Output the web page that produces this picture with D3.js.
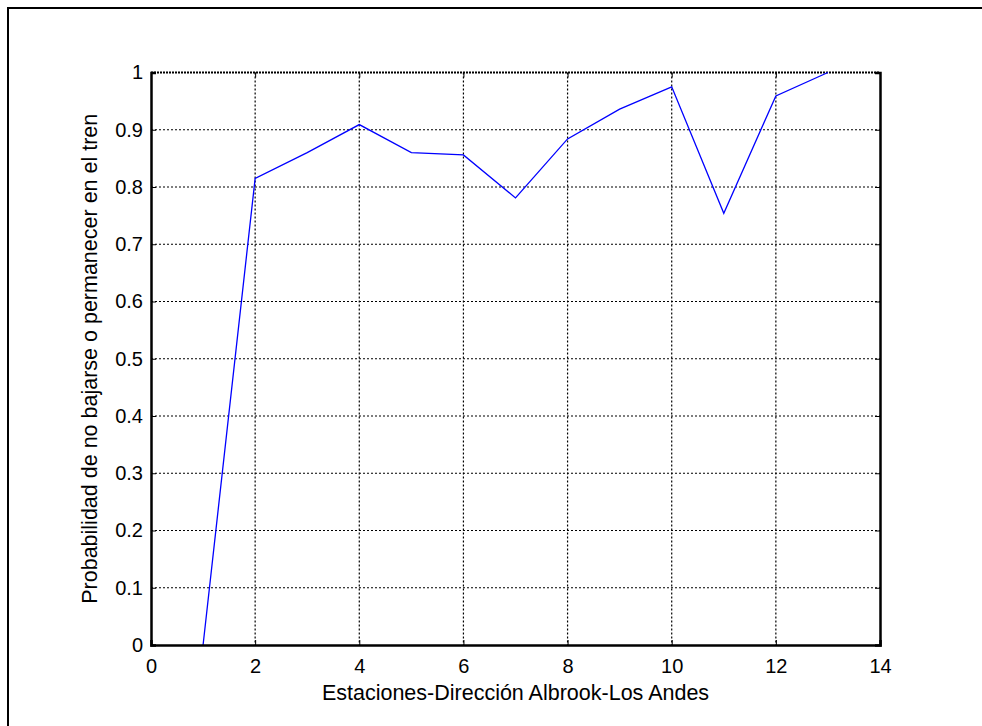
<!DOCTYPE html>
<html><head><meta charset="utf-8">
<script src="https://cdn.jsdelivr.net/npm/d3@7"></script>
<style>html,body{margin:0;padding:0;background:#fff;}svg{display:block;}</style>
</head><body>
<script>
const stations = [1,2,3,4,5,6,7,8,9,10,11,12,13];
const probValues = [0,0.815,0.86,0.909,0.86,0.856,0.781,0.884,0.936,0.975,0.754,0.959,1.0];
const xTicks = [0,2,4,6,8,10,12,14];
const yTicks = [0,0.1,0.2,0.3,0.4,0.5,0.6,0.7,0.8,0.9,1];
const xLabel = "Estaciones-Dirección Albrook-Los Andes";
const yLabel = "Probabilidad de no bajarse o permanecer en el tren";

const W = 982, H = 726;
const m = {left:151, right:880, top:72.5, bottom:645};
const svg = d3.select("body").append("svg").attr("width",W).attr("height",H);
const font = "Liberation Sans, Arial, sans-serif";

svg.append("rect").attr("x",8).attr("y",8).attr("width",W).attr("height",H)
  .attr("fill","none").attr("stroke","#000").attr("stroke-width",2);

const x = d3.scaleLinear().domain([0,14]).range([m.left,m.right]);
const y = d3.scaleLinear().domain([0,1]).range([m.bottom,m.top]);

// grid
const g = svg.append("g");
g.selectAll(".vg").data(xTicks.slice(1,-1)).enter().append("line")
  .attr("x1",d=>x(d)).attr("x2",d=>x(d)).attr("y1",m.top).attr("y2",m.bottom)
  .attr("stroke","#000").attr("stroke-width",1.2).attr("stroke-dasharray","2,2");
g.selectAll(".hg").data(yTicks.slice(1,-1)).enter().append("line")
  .attr("y1",d=>y(d)).attr("y2",d=>y(d)).attr("x1",m.left).attr("x2",m.right)
  .attr("stroke","#000").attr("stroke-width",1.2).attr("stroke-dasharray","2,2");
// top dotted line
g.append("line").attr("x1",m.left).attr("x2",m.right).attr("y1",m.top).attr("y2",m.top)
  .attr("stroke","#000").attr("stroke-width",1.8).attr("stroke-dasharray","2,1");

// line
const line = d3.line().x((d,i)=>x(stations[i])).y(d=>y(d));
svg.append("path").datum(probValues).attr("d",line)
  .attr("fill","none").attr("stroke","#0000ff").attr("stroke-width",1.3);

// axes
const xAxis = d3.axisBottom(x).tickValues(xTicks).tickSize(-5).tickPadding(14).tickFormat(d3.format("d"));
const xa = svg.append("g").attr("transform",`translate(0,${m.bottom})`).call(xAxis);
const yAxis = d3.axisLeft(y).tickValues(yTicks).tickSize(-5).tickPadding(8).tickFormat(d=>d===0||d===1?d3.format("d")(d):d3.format(".1f")(d));
const ya = svg.append("g").attr("transform",`translate(${m.left},0)`).call(yAxis);
const yAxisR = d3.axisRight(y).tickValues(yTicks).tickSize(-5).tickFormat("");
const yr = svg.append("g").attr("transform",`translate(${m.right},0)`).call(yAxisR);
const xAxisT = d3.axisTop(x).tickValues(xTicks).tickSize(-5).tickFormat("");
const xt = svg.append("g").attr("transform",`translate(0,${m.top})`).call(xAxisT);
[xa,ya,yr,xt].forEach(a=>{
  a.select(".domain").attr("stroke","#000").attr("stroke-width",2.5);
  a.selectAll(".tick line").attr("stroke","#000");
  a.selectAll("text").attr("font-family",font).attr("font-size",20).attr("fill","#000");
});
xt.select(".domain").attr("stroke","none");

svg.append("text").attr("x",(m.left+m.right)/2).attr("y",700)
  .attr("text-anchor","middle").attr("font-family",font).attr("font-size",21.5).text(xLabel);
svg.append("text").attr("transform",`translate(97,${(m.top+m.bottom)/2}) rotate(-90)`)
  .attr("text-anchor","middle").attr("font-family",font).attr("font-size",21.5).text(yLabel);
</script>
</body></html>
